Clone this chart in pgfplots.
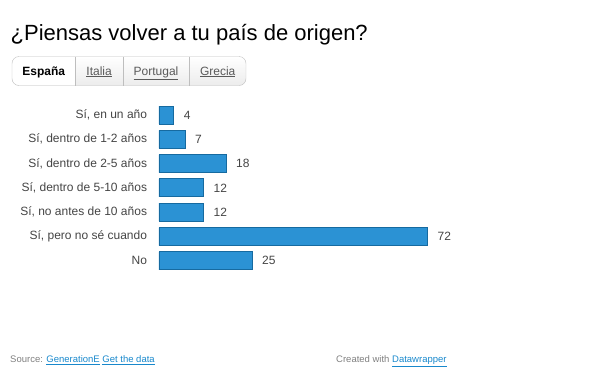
\documentclass[border=0pt]{standalone}
\usepackage{pgfplots}
\pgfplotsset{compat=1.18}
\usepackage{fontspec}
\setmainfont{Liberation Sans}
\definecolor{barfill}{RGB}{43,146,212}
\definecolor{barline}{RGB}{22,106,160}
\definecolor{labgray}{RGB}{68,68,68}
\definecolor{tabborder}{RGB}{190,190,190}
\definecolor{tabfill}{RGB}{236,236,236}
\definecolor{tabtext}{RGB}{90,90,90}
\definecolor{linkblue}{RGB}{24,136,204}
\definecolor{footgray}{RGB}{128,128,128}
\begin{document}
\begin{tikzpicture}
\path[use as bounding box] (0pt,0pt) rectangle (597pt,-389pt);
% title
\node[anchor=base west, inner sep=0pt, font=\fontsize{22}{26}\selectfont, text=black] at (10.5pt,-40pt) {¿Piensas volver a tu país de origen?};
% tabs
\begin{scope}
\clip[rounded corners=7pt] (12pt,-56.5pt) rectangle (246pt,-85.5pt);
\shade[top color=white, bottom color=tabfill] (12pt,-56.5pt) rectangle (246pt,-85.5pt);
\fill[white] (12pt,-56.5pt) rectangle (75.5pt,-85.5pt);
\end{scope}
\draw[tabborder, rounded corners=7pt] (12pt,-56.5pt) rectangle (246pt,-85.5pt);
\draw[tabborder] (75.5pt,-56.5pt) -- (75.5pt,-85.5pt);
\draw[tabborder] (122.7pt,-56.5pt) -- (122.7pt,-85.5pt);
\draw[tabborder] (189.3pt,-56.5pt) -- (189.3pt,-85.5pt);
\node[anchor=base, inner sep=0pt, font=\fontsize{12}{14}\selectfont\bfseries] at (43.8pt,-75pt) {España};
\node[anchor=base, inner sep=0pt, font=\fontsize{12}{14}\selectfont, text=tabtext] at (99.1pt,-75pt) {\underline{Italia}};
\node[anchor=base, inner sep=0pt, font=\fontsize{12}{14}\selectfont, text=tabtext] at (156pt,-75pt) {\underline{Portugal}};
\node[anchor=base, inner sep=0pt, font=\fontsize{12}{14}\selectfont, text=tabtext] at (217.7pt,-75pt) {\underline{Grecia}};
% chart
\begin{axis}[
  at={(159pt,-102.85pt)}, anchor=north west,
  scale only axis, width=268.7pt, height=170.1pt,
  xmin=0, xmax=72, ymin=-0.5, ymax=6.5, y dir=reverse,
  xbar, bar width=18pt,
  axis line style={draw=none}, tick style={draw=none},
  xtick=\empty,
  ytick={0,1,2,3,4,5,6},
  yticklabels={{Sí, en un año},{Sí, dentro de 1-2 años},{Sí, dentro de 2-5 años},{Sí, dentro de 5-10 años},{Sí, no antes de 10 años},{Sí, pero no sé cuando},{No}},
  yticklabel style={font=\fontsize{12}{14}\selectfont, text=labgray, inner sep=0pt, xshift=-7.5pt},
  /pgf/number format/assume math mode=true,
  nodes near coords,
  nodes near coords style={anchor=west, inner sep=0pt, xshift=9.5pt, font=\fontsize{12}{14}\selectfont, text=labgray},
  clip=false,
]
\addplot[fill=barfill, draw=barline, line width=0.9pt] coordinates {(4,0) (7,1) (18,2) (12,3) (12,4) (72,5) (25,6)};
\end{axis}
% footer
\node[anchor=base west, inner sep=0pt, font=\fontsize{9.5}{11}\selectfont] at (10pt,-362.5pt) {\textcolor{footgray}{Source:} \textcolor{linkblue}{\underline{GenerationE}} \textcolor{linkblue}{\underline{Get the data}}};
\node[anchor=base west, inner sep=0pt, font=\fontsize{9.5}{11}\selectfont] at (336pt,-362.5pt) {\textcolor{footgray}{Created with} \textcolor{linkblue}{\underline{Datawrapper}}};
\end{tikzpicture}
\end{document}
